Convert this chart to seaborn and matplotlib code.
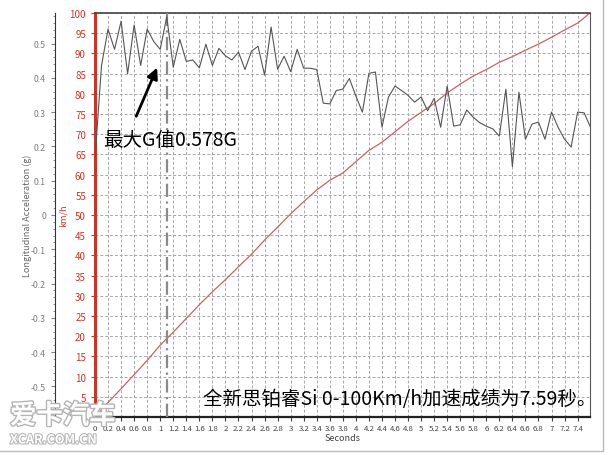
import matplotlib
matplotlib.use("Agg")
import matplotlib.pyplot as plt
import matplotlib.patheffects as pe
from matplotlib.ticker import MultipleLocator
import seaborn as sns
import pandas as pd

sns.set_style("white")
plt.rcParams['font.family'] = ['Noto Sans CJK SC', 'DejaVu Sans']
plt.rcParams['axes.unicode_minus'] = False

# Data
speed_t = [0, 0.2, 0.4, 0.6, 0.8, 1.0, 1.2, 1.4, 1.6, 1.8, 2.0, 2.2, 2.4, 2.6, 2.8,
           3.0, 3.2, 3.4, 3.6, 3.8, 4.0, 4.2, 4.4, 4.6, 4.8, 5.0, 5.2, 5.4, 5.6, 5.8,
           6.0, 6.2, 6.4, 6.6, 6.8, 7.0, 7.2, 7.4, 7.59]
speed_kmh = [0, 3.6, 7.0, 10.5, 14.0, 17.8, 21.0, 24.4, 27.8, 31.0, 34.0, 37.2, 40.3,
             43.8, 47.0, 50.3, 53.3, 56.2, 58.6, 60.4, 63.2, 66.0, 68.0, 70.6, 73.2,
             75.4, 77.6, 80.2, 82.4, 84.4, 86.0, 87.8, 89.2, 90.8, 92.3, 94.0, 95.8,
             97.5, 100]

accel_t = [round(0.1 * i, 1) for i in range(76)] + [7.59]
accel_g = [0.165, 0.436, 0.542, 0.483, 0.565, 0.412, 0.554, 0.436, 0.542, 0.506,
           0.483, 0.578, 0.431, 0.512, 0.448, 0.452, 0.429, 0.498, 0.436, 0.486,
           0.464, 0.452, 0.475, 0.424, 0.478, 0.492, 0.408, 0.548, 0.425, 0.463,
           0.418, 0.483, 0.428, 0.428, 0.424, 0.326, 0.324, 0.363, 0.367, 0.398,
           0.347, 0.300, 0.413, 0.417, 0.256, 0.344, 0.376, 0.363, 0.349, 0.329,
           0.344, 0.304, 0.340, 0.256, 0.376, 0.259, 0.263, 0.306, 0.285, 0.269,
           0.259, 0.251, 0.230, 0.367, 0.141, 0.358, 0.221, 0.265, 0.271, 0.221,
           0.300, 0.256, 0.221, 0.198, 0.300, 0.298, 0.259]

max_g_time = 1.1
result_time = 7.59

df_speed = pd.DataFrame({'Seconds': speed_t, 'km/h': speed_kmh})
df_accel = pd.DataFrame({'Seconds': accel_t, 'g': accel_g})

red = '#c0392b'
fig = plt.figure(figsize=(6.08, 4.56), dpi=100)
ax = fig.add_axes([95 / 608, 38 / 456, 495 / 608, 404 / 456])
ax2 = ax.twinx()

# Speed trace (red axis)
sns.lineplot(data=df_speed, x='Seconds', y='km/h', ax=ax, color='#c86464', linewidth=0.9)
ax.set_xlim(0, result_time)
ax.set_ylim(0, 100)
ax.xaxis.set_major_locator(MultipleLocator(0.2))
ax.xaxis.set_major_formatter(plt.FuncFormatter(lambda v, p: f'{v:g}'))
ax.yaxis.set_major_locator(MultipleLocator(5))
ax.grid(True, color='#a8a8a8', linestyle=(0, (3, 2)), linewidth=0.7)
ax.set_axisbelow(True)
ax.tick_params(axis='y', colors=red, labelsize=7, length=3, direction='out', left=True)
ax.tick_params(axis='x', colors='#444444', labelsize=5.6, length=3, direction='out',
               bottom=True, pad=2)
ax.set_xlabel('Seconds', fontsize=6.5, color='#444444', labelpad=1)
ax.set_ylabel('km/h', fontsize=6.5, color=red, labelpad=1)
ax.spines['left'].set_color(red)
ax.spines['left'].set_linewidth(2.2)
ax.spines['bottom'].set_color('#222222')
ax.spines['bottom'].set_linewidth(1.6)
ax.spines['top'].set_color('#444444')
ax.spines['top'].set_linewidth(1.2)
ax.spines['right'].set_color('#555555')

# Acceleration trace on an offset left axis
sns.lineplot(data=df_accel, x='Seconds', y='g', ax=ax2, color='#555555', linewidth=0.8)
ax2.set_ylim(-0.589, 0.589)
ax2.yaxis.set_ticks_position('left')
ax2.yaxis.set_label_position('left')
ax2.spines['left'].set_visible(True)
ax2.spines['left'].set_position(('axes', -40 / 495))
ax2.spines['left'].set_color('#333333')
ax2.spines['right'].set_visible(False)
ax2.spines['top'].set_visible(False)
ax2.spines['bottom'].set_visible(False)
ax2.yaxis.set_major_locator(MultipleLocator(0.1))
ax2.yaxis.set_minor_locator(MultipleLocator(0.02))
ax2.yaxis.set_major_formatter(plt.FuncFormatter(lambda v, p: '0' if abs(v) < 1e-9 else f'{v:.1f}'))
ax2.tick_params(axis='y', which='major', colors='#808080', labelsize=6.3, length=3)
ax2.tick_params(axis='y', which='minor', colors='#808080', length=1.5)
ax2.set_ylabel('Longitudinal Acceleration (g)', fontsize=6.5, color='#666666', labelpad=-1)
ax2.set_xlabel('')

# Max-G marker line
ax.axvline(max_g_time, color='#8a8a8a', linestyle=(0, (6, 2, 1, 2)), linewidth=1.6, zorder=3)

# Annotations
ax.annotate('', xy=(0.969, 87.1), xytext=(0.615, 73.8),
            arrowprops=dict(arrowstyle='-|>', color='black', lw=2, mutation_scale=16))
ax.text(0.12, 68.8, '最大G值0.578G', fontsize=14, va='center', ha='left', color='black')
ax.text(1.65, 4.5, '全新思铂睿Si 0-100Km/h加速成绩为7.59秒。', fontsize=14,
        va='center', ha='left', color='black')

# Watermark
fig.text(10 / 608, 1 - 417 / 456, '爱卡汽车', fontsize=19, fontweight='bold', color='white',
         va='center', ha='left', zorder=10,
         path_effects=[pe.withStroke(linewidth=2, foreground='#b5b5b5')])
fig.text(10 / 608, 1 - 441 / 456, 'XCAR.COM.CN', fontsize=9, fontweight='bold', color='white',
         va='center', ha='left', zorder=10,
         path_effects=[pe.withStroke(linewidth=1.5, foreground='#b5b5b5')])

# Screenshot frame
fig.add_artist(plt.Line2D([603 / 608, 603 / 608], [1 - 452 / 456, 1], color='#bbbbbb', lw=1))
fig.add_artist(plt.Line2D([0, 603 / 608], [1 - 452 / 456, 1 - 452 / 456], color='#bbbbbb', lw=1))

fig.savefig('out.png', dpi=100)
